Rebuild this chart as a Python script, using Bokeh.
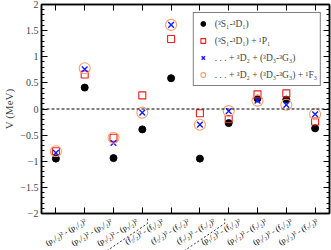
import math
from bokeh.plotting import figure
from bokeh.layouts import column
from bokeh.models import (Range1d, FixedTicker, SingleIntervalTicker, LinearAxis,
                          Legend, LegendItem, Span, CustomJSTickFormatter)
from bokeh.core.properties import value
from bokeh.embed import file_html
from bokeh.resources import INLINE

# ---- data ----
x_pos = [1, 2, 3, 4, 5, 6, 7, 8, 9, 10]
pair_labels = [
    "(p₁/₂)² - (p₁/₂)²",
    "(p₁/₂)² - (p₃/₂)²",
    "(p₃/₂)² - (p₃/₂)²",
    "(f₅/₂)² - (f₅/₂)²",
    "(f₅/₂)² - (f₇/₂)²",
    "(f₇/₂)² - (f₇/₂)²",
    "(p₁/₂)² - (f₅/₂)²",
    "(p₁/₂)² - (f₇/₂)²",
    "(p₃/₂)² - (f₅/₂)²",
    "(p₃/₂)² - (f₇/₂)²",
]
v_s1d1 = [-0.95, 0.41, -0.94, -0.39, 0.59, -0.95, -0.27, 0.20, 0.18, -0.37]
v_plus_p1 = [-0.81, 0.66, -0.55, 0.26, 1.34, -0.08, -0.19, 0.28, 0.30, -0.24]
v_plus_d2d3g3 = [-0.84, 0.76, -0.65, -0.07, 1.61, -0.30, -0.04, 0.16, 0.08, -0.10]
v_plus_f3 = [-0.81, 0.78, -0.55, -0.07, 1.61, -0.30, -0.04, 0.16, 0.08, -0.10]
group_bounds = [3.5, 6.5]

legend_labels = [
    "(³S₁-³D₁)",
    "(³S₁-³D₁) + ¹P₁",
    ". . . + ³D₂ + (³D₃-³G₃)",
    ". . . + ³D₂ + (³D₃-³G₃) + ¹F₃",
]

FONT = "Liberation Serif"
ANG = 0.53
W = 331
H1, H2 = 218, 32
L, R, BB, TB = 33, 2, 5, 4
X0, X1, Y0, Y1 = 0.5, 10.5, -2.0, 2.0
PX_X = (W - L - R) / (X1 - X0)

blank = CustomJSTickFormatter(code="return ''")

p = figure(width=W, height=H1, output_backend="svg", toolbar_location=None,
           x_range=Range1d(X0, X1), y_range=Range1d(Y0, Y1),
           min_border_left=L, min_border_right=R, min_border_top=TB, min_border_bottom=BB)
p.background_fill_color = "white"
p.border_fill_color = "white"
p.outline_line_color = "black"
p.outline_line_width = 1.5
p.xgrid.visible = False
p.ygrid.visible = False

xa = p.xaxis[0]
xa.ticker = FixedTicker(ticks=x_pos)
xa.formatter = blank
xa.major_label_standoff = 0
xa.major_tick_in = 6
xa.major_tick_out = 0
xa.minor_tick_line_color = None
xa.axis_line_width = 1.5

ya = p.yaxis[0]
ya.ticker = SingleIntervalTicker(interval=0.5, num_minor_ticks=5)
ya.axis_label = "V (MeV)"
ya.axis_label_text_font = FONT
ya.axis_label_text_font_style = "normal"
ya.axis_label_text_font_size = "11px"
ya.axis_label_standoff = 2
ya.major_label_text_font = FONT
ya.major_label_text_font_size = "10px"
ya.major_label_standoff = 3
ya.major_tick_in = 6
ya.major_tick_out = 0
ya.minor_tick_in = 3
ya.minor_tick_out = 0
ya.axis_line_width = 1.5

ra = LinearAxis(ticker=SingleIntervalTicker(interval=0.5, num_minor_ticks=5),
                formatter=blank, major_label_standoff=0,
                major_tick_in=6, major_tick_out=0, minor_tick_in=3, minor_tick_out=0,
                axis_line_width=1.5)
p.add_layout(ra, "right")
ta = LinearAxis(ticker=FixedTicker(ticks=x_pos), formatter=blank,
                major_label_standoff=0,
                major_tick_in=6, major_tick_out=0, minor_tick_line_color=None,
                axis_line_width=1.5)
p.add_layout(ta, "above")

p.add_layout(Span(location=0, dimension="width", line_color="black",
                  line_dash="3 2", line_width=1))

r1 = p.scatter(x_pos, v_s1d1, marker="circle", size=7, fill_color="black", line_color="black")
r2 = p.scatter(x_pos, v_plus_p1, marker="square", size=7, fill_color=None,
               line_color="#ee1c1c", line_width=1.1)
r3 = p.scatter(x_pos, v_plus_d2d3g3, marker="x", size=8, line_color="#1a1aff", line_width=1.4)
r4 = p.scatter(x_pos, v_plus_f3, marker="circle", size=11, fill_color=None,
               line_color="#f4a06c", line_width=1.1)

legend = Legend(items=[LegendItem(label=l, renderers=[r]) for l, r in
                       zip(legend_labels, [r1, r2, r3, r4])],
                location="top_right")
legend.label_text_font = FONT
legend.label_text_font_size = "9.5px"
legend.glyph_width = 12
legend.glyph_height = 15
legend.label_height = 15
legend.spacing = 2
legend.padding = 3
legend.margin = 8
legend.label_standoff = 6
legend.border_line_color = "black"
legend.border_line_width = 1.2
legend.background_fill_color = "white"
legend.background_fill_alpha = 1
p.add_layout(legend)

# ---- strip below the frame with the rotated category labels ----
p2 = figure(width=W, height=H2, output_backend="svg", toolbar_location=None,
            x_range=Range1d(X0 - L / PX_X, X0 + (W - L) / PX_X),
            y_range=Range1d(-H2, 0),
            x_axis_location=None, y_axis_location=None,
            min_border=0, min_border_left=0, min_border_right=0,
            min_border_top=0, min_border_bottom=0)
p2.outline_line_color = None
p2.xgrid.visible = False
p2.ygrid.visible = False
p2.background_fill_color = "white"
p2.border_fill_color = "white"

# y in p2 is pixels below p2's top edge (which is BB px under the frame)
lab_x = [xp + 3 / PX_X for xp in x_pos]
lab_y = [-2] * len(x_pos)
p2.text(lab_x, lab_y, text=pair_labels, angle=ANG, text_align="right",
        text_baseline="middle", text_font=value(FONT), text_font_size="8px",
        text_color="black")

sep_xs, sep_ys = [], []
for b in group_bounds:
    yb = -(10 - BB)
    d = 46
    sep_xs.append([b, b, b - d / PX_X])
    sep_ys.append([0, yb, yb - d * math.tan(ANG)])
p2.multi_line(sep_xs, sep_ys, line_color="black", line_dash="2 2", line_width=0.8)

layout = column(p, p2, spacing=0)
open("out.html", "w").write(file_html(layout, INLINE))
